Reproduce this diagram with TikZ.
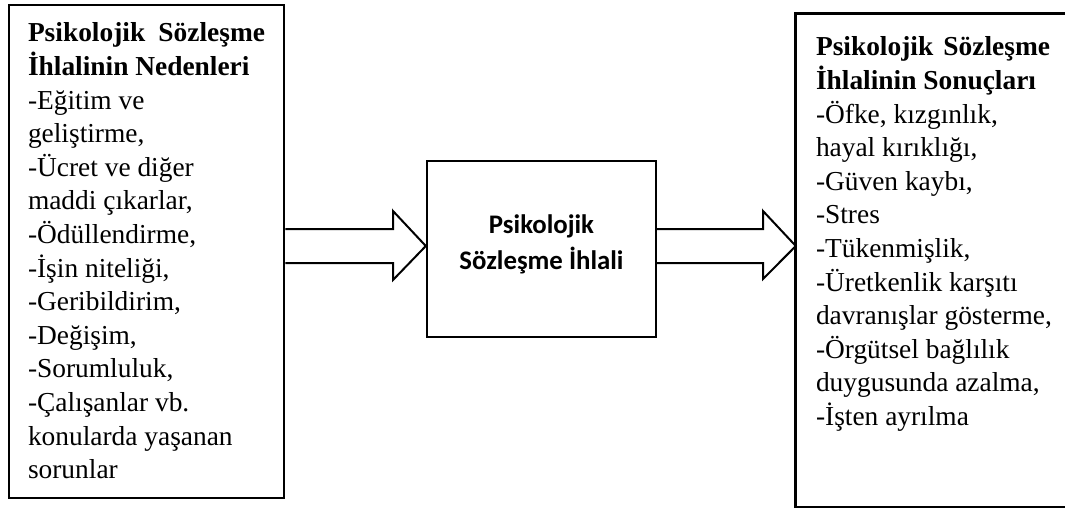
\documentclass[tikz,border=0pt]{standalone}
\usepackage{fontspec}
\setmainfont{Liberation Serif}
\newfontfamily\calib{Carlito}
\usetikzlibrary{calc}
\tikzset{
  bigbox/.style={draw, line width=2.7pt, rectangle, inner sep=0pt},
  openbox/.style={rectangle, inner sep=0pt},
  boxline/.style={line width=2.7pt, line join=miter},
  midbox/.style={draw, line width=2.4pt, rectangle, inner sep=0pt},
  blockarrow/.style={draw, line width=2pt, fill=white, line join=miter},
  txt/.style={inner sep=0pt, outer sep=0pt}
}
\newcommand{\sidetext}[2]{\vtop{\hsize=#1\parindent=0pt\baselineskip=33.6pt\raggedright #2}}
\begin{document}
\begin{tikzpicture}[x=1pt,y=-1pt]
\useasboundingbox (0,0) rectangle (1065,508);
% boxes
\node[bigbox, minimum width=275pt, minimum height=493pt] (L) at (146.5,251.5) {};
\node[midbox, minimum width=229pt, minimum height=176pt] (M) at (541.5,249) {};
\node[openbox, minimum width=269pt, minimum height=493pt] (R) at (930.5,260.5) {};
\draw[boxline] (R.north east) -- (R.north west) -- (R.south west) -- (R.south east);
% texts
\node[txt, anchor=base west, font=\fontsize{27.4}{33.6}\selectfont] (Lt) at (28,42)
  {\sidetext{250pt}{\makebox[237pt][s]{\textbf{Psikolojik\hfill Sözleşme}}\\
  \textbf{İhlalinin Nedenleri}\\
  -Eğitim ve\\
  geliştirme,\\
  -Ücret ve diğer\\
  maddi çıkarlar,\\
  -Ödüllendirme,\\
  -İşin niteliği,\\
  -Geribildirim,\\
  -Değişim,\\
  -Sorumluluk,\\
  -Çalışanlar vb.\\
  konularda yaşanan\\
  sorunlar}};
\node[txt, anchor=base, font=\calib\bfseries\fontsize{26.8}{36}\selectfont] (Mt) at (541.5,233)
  {\vtop{\hsize=229pt\parindent=0pt\baselineskip=36pt\centering Psikolojik\\ Sözleşme İhlali}};
\node[txt, anchor=base west, font=\fontsize{27.4}{33.6}\selectfont] (Rt) at (816,56)
  {\sidetext{260pt}{\makebox[234pt][s]{\textbf{Psikolojik\hfill Sözleşme}}\\
  \textbf{İhlalinin Sonuçları}\\
  -Öfke, kızgınlık,\\
  hayal kırıklığı,\\
  -Güven kaybı,\\
  -Stres\\
  -Tükenmişlik,\\
  -Üretkenlik karşıtı\\
  davranışlar gösterme,\\
  -Örgütsel bağlılık\\
  duygusunda azalma,\\
  -İşten ayrılma}};
% block arrows
\draw[blockarrow] (L.east |- 0,229) -- (393,229) -- (393,211) -- (M.west |- 0,246)
  -- (393,280) -- (393,263) -- (L.east |- 0,263);
\draw[blockarrow] (M.east |- 0,229) -- (763,229) -- (763,211) -- (R.west |- 0,246)
  -- (763,279) -- (763,263) -- (M.east |- 0,263);
\end{tikzpicture}
\end{document}
